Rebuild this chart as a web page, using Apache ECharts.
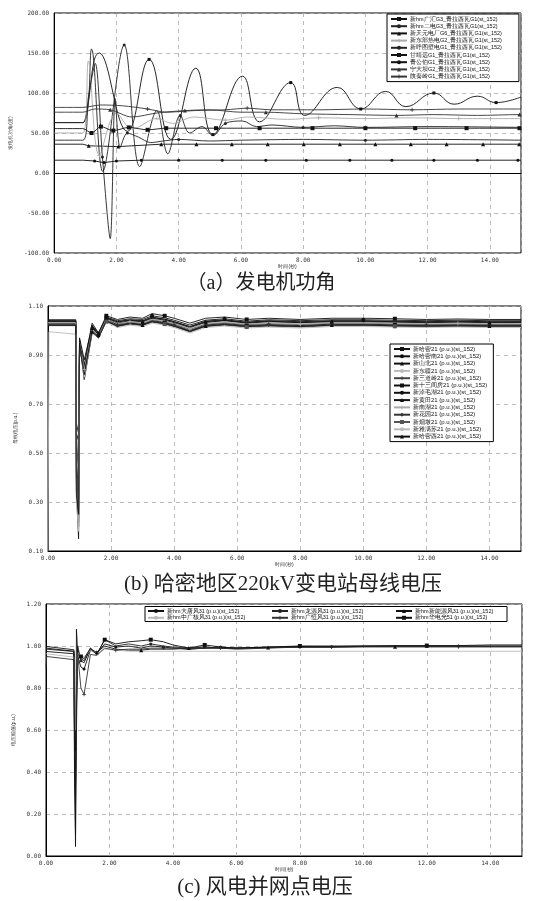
<!DOCTYPE html>
<html><head><meta charset="utf-8">
<script src="https://cdn.jsdelivr.net/npm/echarts@6.0.0/dist/echarts.min.js"></script>
<style>html,body{margin:0;padding:0;background:#fff}#c{width:534px;height:901px}</style>
</head><body><div id="c"></div>
<script>
// ---------- (a) 发电机功角 ----------
const namesA = ['新hm广汇G3_青拉西瓦G1(st_152)','新hm二电G3_青拉西瓦G1(st_152)','新天元电厂G6_青拉西瓦G1(st_152)','新东部热电G2_青拉西瓦G1(st_152)','新呼图壁电G1_青拉西瓦G1(st_152)','甘靖远G1_青拉西瓦G1(st_152)','青公伯G1_青拉西瓦G1(st_152)','宁大坝G2_青拉西瓦G1(st_152)','陕秦岭G1_青拉西瓦G1(st_152)'];
const tA1 = [0,0.92,1.0,1.45,2.35,3.05,3.75,4.55,5.1,6.05,6.6,7.6,8.05,9.1,9.85,10.65,11.3,12.2,12.85,13.6,14.2,15];
const vA1 = [63,63,68,150,52,142,42,131,48,121,64,113,72,107,80,102,83,100,86,96,88,95];
const tA2 = [0,0.92,1.2,1.56,2.25,2.75,3.3,3.65,4.05,4.35,4.75,5.1,5.5,6.05,6.5,7.0,8.0,9.0,10.0,12.0,15];
const vA2 = [63,63,155,2,160,8,78,24,72,50,58,47,62,65,58,60,57,59,57,58,57];
const tA3 = [0,0.92,1.11,2.06,3.44,4.57,5.71,6.86,8.02,9.18,10.32,11.46,12.61,13.78,14.94,15];
const vA3 = [36,36,34,33,36,36,36,36,36,36,36,36,36,36,36,36];
const tA4 = [0,0.92,1.1,1.45,2.0,2.5,3.3,3.8,4.5,5.5,6.2,7.5,8.5,10.0,11.5,13.0,15];
const vA4 = [50,50,140,22,75,55,68,62,70,66,70,67,69,68,69,68,68];
const tA5 = [0,0.92,1.1,1.32,1.55,1.8,1.96,2.12,2.35,2.7,3.1,3.5,4.0,5.0,6.0,8.0,10.0,12.0,15];
const vA5 = [41,41,95,137,20,-82,93,32,50,45,38,40,42,40,41,42,41,42,41];
const tA6 = [0,0.92,1.2,1.5,1.9,2.4,3.0,3.6,5.2,6.6,8.3,10.0,11.6,13.25,14.95,15];
const vA6 = [55.5,55.5,50,58,53,57,54,56,56,56,56,56,56,56,56,56];
const tA7 = [0,0.92,1.3,1.6,2.0,2.8,4.0,5.4,6.8,8.1,9.5,10.85,12.2,13.6,14.9,15];
const vA7 = [16,16,15,13,15,16,16,16,16,16,16,16,16,16,16,16];
const tA8 = [0,0.92,1.3,1.8,2.5,3.3,4.2,5.0,6.0,6.8,8.0,9.5,11.0,12.2,13.6,14.95,15];
const vA8 = [76,76,80,79,70,75,78,79,76,76,74,73,72,73,72,73,73];
const tA9 = [0,0.92,1.5,2.2,3.0,3.6,4.5,5.5,6.2,7.0,8.5,10.0,11.5,13.0,14.9,15];
const vA9 = [82,82,85,84,80,76,78,79,81,79,79,80,79,80,80,80];

// ---------- (b) 哈密地区220kV变电站母线电压 ----------
const namesB = ['新哈密21 (p.u.)(st_152)','新哈密南21 (p.u.)(st_152)','新山北21 (p.u.)(st_152)','新东疆21 (p.u.)(st_152)','新三道岭21 (p.u.)(st_152)','新十三间房21 (p.u.)(st_152)','新淖毛湖21 (p.u.)(st_152)','新黄田21 (p.u.)(st_152)','新南湖21 (p.u.)(st_152)','新花园21 (p.u.)(st_152)','新烟墩21 (p.u.)(st_152)','新雅满苏21 (p.u.)(st_152)','新哈密西21 (p.u.)(st_152)'];
const tB = [0,0.03,0.88,0.9,0.97,1.0,1.05,1.15,1.4,1.6,1.85,2.2,2.6,3.0,3.3,3.7,4.0,4.5,5.0,5.6,6.3,7.0,8.0,9.0,10.0,11.0,12.0,13.0,14.0,15.0];
const vB1  = [1.044,1.044,1.044,0.60,0.30,0.95,0.93,0.86,1.03,0.99,1.060,1.045,1.055,1.050,1.069,1.060,1.050,1.030,1.050,1.055,1.045,1.050,1.045,1.050,1.050,1.048,1.045,1.047,1.045,1.045];
const vB2  = [1.039,1.039,1.039,0.55,0.25,0.96,0.92,0.84,1.02,0.98,1.055,1.040,1.048,1.045,1.060,1.052,1.042,1.022,1.042,1.048,1.038,1.044,1.040,1.044,1.044,1.042,1.040,1.042,1.040,1.040];
const vB3  = [1.035,1.035,1.035,0.50,0.20,0.95,0.91,0.82,1.01,0.975,1.050,1.035,1.042,1.038,1.052,1.046,1.036,1.015,1.036,1.042,1.032,1.038,1.033,1.038,1.038,1.036,1.034,1.036,1.034,1.035];
const vB4  = [1.031,1.031,1.031,0.45,0.18,0.94,0.90,0.81,1.00,0.97,1.045,1.030,1.038,1.033,1.048,1.040,1.030,1.010,1.030,1.036,1.028,1.032,1.028,1.034,1.034,1.031,1.030,1.031,1.030,1.030];
const vB5  = [1.028,1.028,1.028,0.40,0.22,0.95,0.90,0.80,0.995,0.97,1.042,1.026,1.034,1.030,1.044,1.036,1.026,1.005,1.026,1.032,1.024,1.028,1.024,1.030,1.030,1.027,1.026,1.027,1.026,1.026];
const vB6  = [1.024,1.024,1.024,0.35,0.15,0.96,0.92,0.83,1.01,0.98,1.050,1.022,1.030,1.025,1.040,1.032,1.022,1.000,1.022,1.028,1.020,1.024,1.020,1.026,1.026,1.023,1.022,1.023,1.022,1.022];
const vB7  = [1.040,1.040,1.040,0.62,0.58,0.97,0.94,0.88,1.02,0.99,1.052,1.036,1.044,1.040,1.055,1.046,1.036,1.016,1.038,1.044,1.034,1.040,1.036,1.040,1.040,1.038,1.036,1.038,1.036,1.036];
const vB8  = [1.036,1.036,1.036,0.58,0.55,0.96,0.93,0.85,1.015,0.985,1.048,1.030,1.040,1.035,1.050,1.042,1.032,1.012,1.033,1.040,1.030,1.036,1.032,1.036,1.036,1.034,1.032,1.034,1.032,1.033];
const vB9  = [1.032,1.032,1.032,0.50,0.40,0.95,0.92,0.84,1.005,0.98,1.046,1.028,1.036,1.031,1.046,1.038,1.028,1.008,1.028,1.034,1.026,1.030,1.026,1.031,1.031,1.029,1.028,1.029,1.028,1.028];
const vB10 = [1.026,1.026,1.026,0.42,0.28,0.94,0.91,0.82,1.00,0.975,1.040,1.020,1.030,1.024,1.038,1.030,1.020,0.998,1.020,1.026,1.018,1.022,1.018,1.024,1.024,1.021,1.020,1.021,1.020,1.020];
const vB11 = [1.022,1.022,1.022,0.38,0.20,0.93,0.90,0.80,0.99,0.97,1.036,1.016,1.026,1.020,1.034,1.026,1.016,0.994,1.016,1.022,1.014,1.018,1.014,1.020,1.020,1.017,1.016,1.017,1.016,1.016];
const vB12 = [0.10,0.995,0.985,0.30,0.18,0.93,0.91,0.81,0.99,0.97,1.035,1.012,1.022,1.016,1.030,1.022,1.012,0.990,1.012,1.018,1.010,1.014,1.010,1.016,1.016,1.014,1.012,1.014,1.012,1.012];
const vB13 = [1.020,1.020,1.020,0.33,0.25,0.95,0.90,0.82,0.995,0.97,1.038,1.018,1.028,1.022,1.036,1.028,1.018,0.996,1.018,1.024,1.016,1.020,1.016,1.022,1.022,1.019,1.018,1.019,1.018,1.018];

// ---------- (c) 风电并网点电压 ----------
const namesC = ['新hm大唐风31 (p.u.)(st_152)','新hm龙源风31 (p.u.)(st_152)','新hm新能源风31 (p.u.)(st_152)','新hm中广核风31 (p.u.)(st_152)','新hm广恒风31 (p.u.)(st_152)','新hm华电光51 (p.u.)(st_152)'];
const tC = [0,0.02,0.88,0.9,0.93,0.96,1.0,1.1,1.2,1.4,1.6,1.85,2.2,2.6,3.0,3.3,3.7,4.0,4.5,5.0,5.5,6.0,7.0,8.0,9.0,10.0,11.0,12.0,13.0,14.0,15.0];
const vC1 = [0.998,0.998,0.982,0.60,0.045,0.75,0.95,0.90,0.89,0.98,0.965,1.01,0.995,1.0,0.99,1.0,0.995,0.99,0.985,0.99,0.995,0.99,0.995,0.998,0.997,1.0,1.0,1.0,1.0,1.0,1.0];
const vC2 = [0.985,0.985,0.974,0.55,0.33,0.70,1.0,0.93,0.92,0.99,0.96,1.03,1.0,1.01,1.0,1.01,1.0,0.995,0.99,0.995,0.99,0.985,0.99,0.995,0.995,0.998,0.998,0.998,0.998,0.998,0.998];
const vC3 = [0.974,0.974,0.963,0.57,0.50,0.80,0.98,0.94,0.93,0.985,0.97,1.0,0.985,0.98,0.98,0.985,0.985,0.985,0.99,0.99,0.99,0.99,0.993,0.995,0.995,0.996,0.996,0.996,0.996,0.996,0.996];
const vC4 = [0.963,0.963,0.947,0.70,0.60,0.85,0.97,0.95,0.95,0.98,0.965,0.985,0.98,0.975,0.975,0.975,0.975,0.975,0.975,0.975,0.975,0.975,0.975,0.975,0.975,0.975,0.975,0.975,0.975,0.975,0.975];
const vC5 = [0.90,0.950,0.935,0.45,0.25,0.60,0.96,0.80,0.77,0.96,0.955,0.99,0.98,0.985,0.985,0.99,0.99,0.99,0.985,0.99,0.99,0.99,0.992,0.995,0.995,0.997,0.997,0.997,0.997,0.997,0.997];
const vC6 = [0.99,0.99,0.975,0.35,0.10,1.08,0.96,0.95,0.94,0.99,0.96,1.03,1.01,1.02,1.025,1.03,1.02,1.005,0.99,1.005,0.995,0.99,0.995,1.0,1.0,1.0,1.002,1.002,1.002,1.005,1.005];

const captions = ['（a）发电机功角','(b) 哈密地区220kV变电站母线电压','(c) 风电并网点电压'];
const yNames = ['发电机功角(度)','母线电压(p.u.)','电压幅值(p.u.)'];
const xName = '时间(秒)';

// ---------- build ----------
const PLUS = 'path://M4,0h2v4h4v2h-4v4h-2v-4h-4v-2h4z';
function line(name, ts, vs, g, o) {
  const every = o.every || 1, off = o.off || 0;
  const data = ts.map((t, i) => {
    const on = o.sym !== 'none' && t > 1 && t < 15 && ((i + off) % every === 0);
    return on ? [t, vs[i]] : {value: [t, vs[i]], symbol: 'none'};
  });
  const c = o.color || '#111';
  return {type: 'line', name, xAxisIndex: g, yAxisIndex: g, data,
    symbol: o.sym, symbolSize: o.size || 4, showAllSymbol: true, smooth: o.smooth || false,
    lineStyle: {color: c, width: o.w || 0.9}, itemStyle: {color: c},
    emphasis: {disabled: true}, animation: false, z: o.z || 2};
}
const series = [
  line(namesA[0], tA1, vA1, 0, {sym: 'rect', size: 3, smooth: 0.45, every: 3, off: 1}),
  line(namesA[1], tA2, vA2, 0, {sym: 'circle', size: 3, smooth: 0.35, every: 4, color: '#222'}),
  line(namesA[2], tA3, vA3, 0, {sym: 'triangle', size: 4}),
  line(namesA[3], tA4, vA4, 0, {sym: PLUS, size: 4, smooth: 0.35, every: 3, color: '#aaa'}),
  line(namesA[4], tA5, vA5, 0, {sym: 'circle', size: 3, smooth: 0.3, every: 4, color: '#222'}),
  line(namesA[5], tA6, vA6, 0, {sym: 'rect', size: 4, smooth: 0.3}),
  line(namesA[6], tA7, vA7, 0, {sym: 'circle', size: 3}),
  line(namesA[7], tA8, vA8, 0, {sym: 'triangle', size: 4, smooth: 0.3, every: 3, color: '#333'}),
  line(namesA[8], tA9, vA9, 0, {sym: PLUS, size: 4, smooth: 0.3, every: 4, color: '#333'})
];
const vBs = [vB1,vB2,vB3,vB4,vB5,vB6,vB7,vB8,vB9,vB10,vB11,vB12,vB13];
const bSty = [
  {sym: 'rect'}, {sym: 'circle'}, {sym: 'triangle'}, {sym: 'none', color: '#bbb'},
  {sym: PLUS, color: '#444'}, {sym: 'rect'}, {sym: 'circle', size: 3}, {sym: 'triangle'},
  {sym: PLUS, color: '#aaa'}, {sym: 'diamond', color: '#333'}, {sym: 'rect', color: '#555'},
  {sym: 'none', color: '#bbb'}, {sym: 'triangle'}
];
vBs.forEach((v, i) => series.push(line(namesB[i], tB, v, 1, Object.assign({every: 5, off: i % 5, size: 4}, bSty[i]))));
const vCs = [vC1,vC2,vC3,vC4,vC5,vC6];
const cSty = [{sym: 'circle', size: 3}, {sym: 'circle', size: 3, color: '#222'}, {sym: 'triangle'}, {sym: 'none', color: '#bbb'}, {sym: PLUS, color: '#333'}, {sym: 'rect'}];
vCs.forEach((v, i) => series.push(line(namesC[i], tC, v, 2, Object.assign({every: 4, off: i % 4, size: 4}, cSty[i]))));

const grids = [
  {left: 48, right: 13, top: 13, height: 240},
  {left: 48, right: 13, top: 306, height: 245},
  {left: 46, right: 12, top: 604, height: 252}
];
const yRanges = [{min: -100, max: 200, interval: 50}, {min: 0.1, max: 1.1, interval: 0.2}, {min: 0, max: 1.2, interval: 0.2}];
const labFont = {fontSize: 6, color: '#333', fontFamily: 'DejaVu Sans Mono'};
const split = {show: true, lineStyle: {color: '#aaa', type: [4, 4], width: 0.8}};
const xAxis = grids.map((g, i) => ({type: 'value', gridIndex: i, min: 0, max: 15, interval: 2,
  axisLine: {lineStyle: {color: '#000', width: 1}}, axisTick: {show: false}, splitLine: split,
  axisLabel: Object.assign({margin: 4, formatter: v => v.toFixed(2), showMaxLabel: false}, labFont),
  name: xName, nameLocation: 'middle', nameGap: 10, nameTextStyle: {fontSize: 5, color: '#333'}}));
const yAxis = grids.map((g, i) => Object.assign({type: 'value', gridIndex: i,
  axisLine: {show: true, lineStyle: {color: '#000', width: 1}}, axisTick: {show: false}, splitLine: split,
  axisLabel: Object.assign({margin: 5, formatter: v => v.toFixed(2)}, labFont),
  name: yNames[i], nameLocation: 'middle', nameGap: 28, nameTextStyle: {fontSize: 5, color: '#333'}}, yRanges[i]));

const legBase = {orient: 'vertical', backgroundColor: '#fff', borderColor: '#000', borderWidth: 1,
  itemWidth: 16, itemHeight: 5, itemGap: 1.2, selectedMode: false,
  textStyle: {fontSize: 5.5, color: '#111', padding: [0, 0, 0, -2]}};
const legCol = {padding: 0, borderWidth: 0, backgroundColor: 'transparent', itemGap: 0.8, z: 6};
const legends = [
  Object.assign({}, legBase, {data: namesA, left: 387, top: 14, padding: [2, 17, 2, 3]}),
  Object.assign({}, legBase, {data: namesB, left: 390, top: 344, padding: [2, 6, 2, 3], itemGap: 1.3, textStyle: {fontSize: 6, color: '#111', padding: [0, 0, 0, -2]}}),
  Object.assign({}, legBase, legCol, {data: [namesC[0], namesC[3]], left: 147, top: 608}),
  Object.assign({}, legBase, legCol, {data: [namesC[1], namesC[4]], left: 271, top: 608}),
  Object.assign({}, legBase, legCol, {data: [namesC[2], namesC[5]], left: 395, top: 608})
];
const capFont = '"Liberation Serif","Noto Sans CJK SC",serif';
const chart = echarts.init(document.getElementById('c'), null, {renderer: 'canvas'});
chart.setOption({
  animation: false,
  backgroundColor: '#fff',
  grid: grids.map(g => Object.assign({show: true, borderColor: '#000', borderWidth: 1, backgroundColor: 'transparent'}, g)),
  xAxis, yAxis, legend: legends, series,
  graphic: [
    {type: 'rect', shape: {x: 145, y: 606.5, width: 362, height: 15}, style: {fill: '#fff', stroke: '#000', lineWidth: 1}, z: 3},
    {type: 'text', x: 261, y: 284, style: {text: captions[0], fontSize: 20, fontFamily: capFont, fill: '#222', textAlign: 'center', textVerticalAlign: 'middle'}},
    {type: 'text', x: 283, y: 584, style: {text: captions[1], fontSize: 21, fontFamily: capFont, fill: '#222', textAlign: 'center', textVerticalAlign: 'middle'}},
    {type: 'text', x: 265, y: 887, style: {text: captions[2], fontSize: 21, fontFamily: capFont, fill: '#222', textAlign: 'center', textVerticalAlign: 'middle'}}
  ]
});
</script></body></html>
